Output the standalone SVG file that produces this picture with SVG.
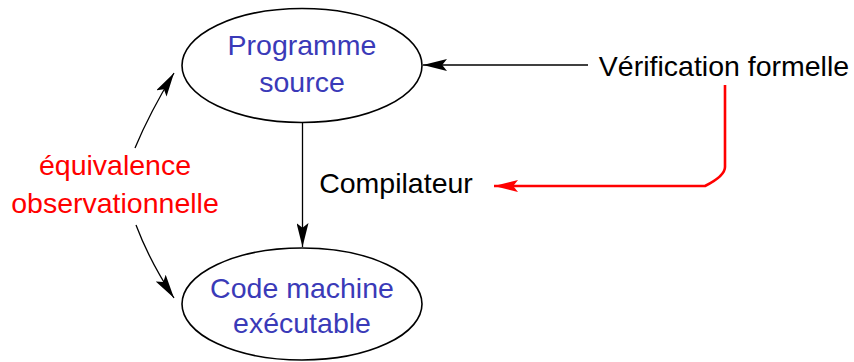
<svg xmlns="http://www.w3.org/2000/svg" width="854" height="362" viewBox="0 0 854 362">
<style>
.node{fill:#fff;stroke:#000;stroke-width:1.6}
.t{font-family:"Liberation Sans",Arial,sans-serif;font-size:28.5px}
.blue{fill:#3a3ab8}
.red{fill:#ff0000}
.blk{fill:#000}
.c{stroke:#000;stroke-width:1.3;fill:none}
.r{stroke:#ff0000;stroke-width:2.6;fill:none}
</style>
<defs>
<marker id="ah" markerWidth="24" markerHeight="12" refX="20" refY="5" orient="auto" markerUnits="userSpaceOnUse" viewBox="0 0 20 10">
<path d="M0,0 L20,5 L0,10 L4,5 Z" fill="#000"/>
</marker>
<marker id="ahr" markerWidth="24" markerHeight="12" refX="20" refY="5" orient="auto" markerUnits="userSpaceOnUse" viewBox="0 0 20 10">
<path d="M0,0 L20,5 L0,10 L4,5 Z" fill="#ff0000"/>
</marker>
</defs>
<g id="connectors">
<line class="c" x1="588" y1="65" x2="423" y2="65" marker-end="url(#ah)"/>
<line class="c" x1="302.5" y1="123" x2="302.5" y2="247" marker-end="url(#ah)"/>
<path class="r" d="M725,85 L725,167 Q725,176 705,186 L494,186" marker-end="url(#ahr)"/>
<path class="c" d="M135,148 Q150,112 174,73" marker-end="url(#ah)"/>
<path class="c" d="M136,225 Q150,262 174,298" marker-end="url(#ah)"/>
</g>
<g id="programme-source">
<ellipse class="node" cx="302" cy="65.5" rx="120" ry="57"/>
<text class="t blue" x="302" y="55" text-anchor="middle">Programme</text>
<text class="t blue" x="302" y="92" text-anchor="middle">source</text>
</g>
<g id="code-machine">
<ellipse class="node" cx="302" cy="304" rx="120" ry="56"/>
<text class="t blue" x="302" y="298" text-anchor="middle">Code machine</text>
<text class="t blue" x="302" y="333" text-anchor="middle">exécutable</text>
</g>
<g id="verification">
<text class="t blk" x="724" y="76" text-anchor="middle">Vérification formelle</text>
</g>
<g id="compilateur">
<text class="t blk" x="396" y="193" text-anchor="middle">Compilateur</text>
</g>
<g id="equivalence">
<text class="t red" x="115" y="175" text-anchor="middle">équivalence</text>
<text class="t red" x="115" y="213" text-anchor="middle">observationnelle</text>
</g>
</svg>
